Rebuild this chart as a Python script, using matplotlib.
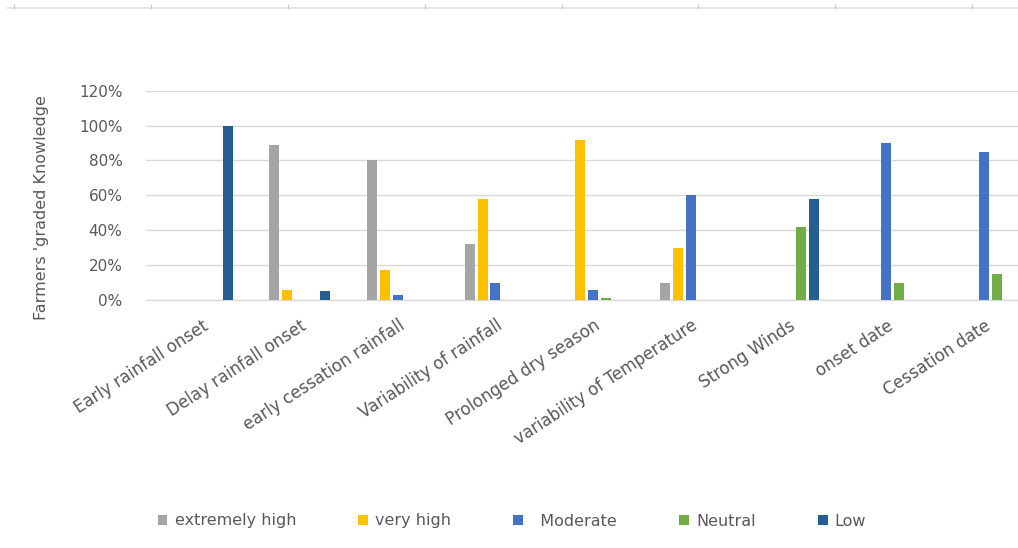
import matplotlib
matplotlib.use("Agg")
import matplotlib.pyplot as plt
from matplotlib.lines import Line2D
import numpy as np

# Categories and series values (share of farmers, %)
categories = [
    "Early rainfall onset", "Delay rainfall onset", "early cessation rainfall",
    "Variability of rainfall", "Prolonged dry season", "variability of Temperature",
    "Strong Winds", "onset date", "Cessation date",
]
series_names = ["extremely high", "very high", "  Moderate", "Neutral", "Low"]
extremely_high = [0, 89, 80, 32, 0, 10, 0, 0, 0]
very_high = [0, 6, 17, 58, 92, 30, 0, 0, 0]
moderate = [0, 0, 3, 10, 6, 60, 0, 90, 85]
neutral = [0, 0, 0, 0, 1, 0, 42, 10, 15]
low = [100, 5, 0, 0, 0, 0, 58, 0, 0]
series_colors = ["#A5A5A5", "#FFC000", "#4472C4", "#70AD47", "#255E91"]
y_ticks = [0, 20, 40, 60, 80, 100, 120]

text_color = "#595959"
grid_color = "#D9D9D9"

plt.rcParams["font.family"] = ["DejaVu Sans"]

W, H = 1018, 548
fig = plt.figure(figsize=(W / 100, H / 100), dpi=100)
fig.patch.set_facecolor("white")

# plot area in pixel terms: left 146, bottom 300, top 90.7, running past the right edge
left_px, bottom_px, top_px = 146, 300, 90.7
ax = fig.add_axes([left_px / W, 1 - bottom_px / H,
                   1 - left_px / W, (bottom_px - top_px) / H])

x = np.arange(len(categories))
step = 0.1304
width = 0.1023
all_series = [extremely_high, very_high, moderate, neutral, low]
for i, (vals, name, col) in enumerate(zip(all_series, series_names, series_colors)):
    ax.bar(x + (i - 2) * step, np.array(vals) / 100.0, width=width,
           color=col, edgecolor="none", label=name, zorder=3)

ax.set_xlim(-0.575, 8.346)
ax.set_ylim(0, 1.2)
ax.set_yticks([t / 100 for t in y_ticks])
ax.set_yticklabels([f"{t}%" for t in y_ticks])
ax.yaxis.grid(True, color=grid_color, linewidth=1.0, zorder=0)
ax.set_axisbelow(True)
for s in ("top", "right", "left"):
    ax.spines[s].set_visible(False)
ax.spines["bottom"].set_color(grid_color)
ax.spines["bottom"].set_linewidth(1.0)

ax.tick_params(axis="y", length=0, pad=17, labelsize=11, labelcolor=text_color)
ax.tick_params(axis="x", length=0, pad=12, labelsize=12, labelcolor=text_color)
ax.set_xticks(x)
ax.set_xticklabels(categories, rotation=33, ha="right", va="top",
                   rotation_mode="anchor")

ax.set_ylabel("Farmers 'graded Knowledge", fontsize=11.5, color=text_color,
              va="center")
ax.yaxis.set_label_coords((42 - left_px) / (W - left_px), 0.44)

fig.legend(loc="center", bbox_to_anchor=(512 / W, 1 - 521 / H), ncol=5,
           frameon=False, fontsize=11.5, labelcolor=text_color,
           handlelength=0.6, handleheight=0.6, handletextpad=0.45,
           columnspacing=3.9)

# thin ruler line across the top of the page
fig.add_artist(Line2D([7 / W, 1], [1 - 7.5 / H] * 2, color="#E3E3E3",
                      linewidth=1.2, transform=fig.transFigure))
for tx in [14, 151, 288, 425, 562, 698, 835, 972]:
    fig.add_artist(Line2D([tx / W] * 2, [1 - 4.5 / H, 1 - 7.5 / H],
                          color="#C8C8C8", linewidth=0.9,
                          transform=fig.transFigure))

fig.savefig("out.png", dpi=100, facecolor="white")
